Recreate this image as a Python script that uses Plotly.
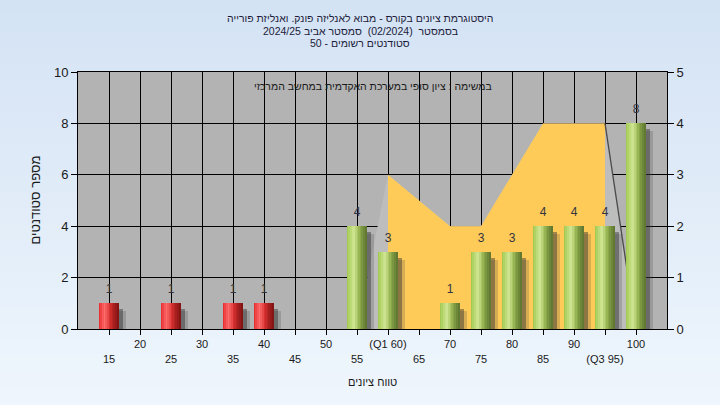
import plotly.graph_objects as go

# ---------------- data ----------------
grades = [15, 20, 25, 30, 35, 40, 45, 50, 55, 60, 65, 70, 75, 80, 85, 90, 95, 100]
counts = [1, 0, 1, 0, 1, 1, 0, 0, 4, 3, 0, 1, 3, 3, 4, 4, 4, 8]
tick_labels = ["15", "20", "25", "30", "35", "40", "45", "50", "55", "(Q1 60)",
               "65", "70", "75", "80", "85", "90", "(Q3 95)", "100"]
fail_threshold = 55  # bars below this are red

dist_x = [55, 60, 65, 70, 75, 80, 85, 90, 95, 100]
dist_y = [0, 3, 2.5, 2, 2, 3, 4, 4, 4, 0]
iqr_x = [60, 65, 70, 75, 80, 85, 90, 95]
iqr_y = [3, 2.5, 2, 2, 3, 4, 4, 4]
edge_x = [95, 100]
edge_y = [4, 0]

title_lines = [
    "היסטוגרמת ציונים בקורס - מבוא לאנליזה פונק. ואנליזת פורייה",
    "בסמסטר  (02/2024)  סמסטר אביב 2024/25",
    "סטודנטים רשומים - 50",
]
subtitle = "במשימה : ציון סופי במערכת האקדמית במחשב המרכזי"
x_title = "טווח ציונים"
y_title = "מספר סטודנטים"

FONT = "Liberation Sans, DejaVu Sans, Arial, sans-serif"
RLE, PDF = "\u202B", "\u202C"


def hx(c):
    c = c.lstrip("#")
    return [int(c[i:i + 2], 16) for i in (0, 2, 4)]


def grad(stops, t):
    for (t0, c0), (t1, c1) in zip(stops, stops[1:]):
        if t0 <= t <= t1:
            f = (t - t0) / (t1 - t0) if t1 > t0 else 0
            a, b = hx(c0), hx(c1)
            return "rgb(%d,%d,%d)" % tuple(round(a[i] + (b[i] - a[i]) * f) for i in range(3))
    return stops[-1][1]


red_stops = [(0, "#e4262a"), (0.3, "#ff6e6e"), (0.55, "#d83030"), (1, "#7c1212")]
green_stops = [(0, "#9cc64a"), (0.35, "#d2e895"), (0.62, "#98b652"), (1, "#5a722e")]

fig = go.Figure()

# background gradient (page)
n_bands = 27
top_c, bot_c = "#d3e2f4", "#eff6fd"
for i in range(n_bands):
    t = i / (n_bands - 1)
    fig.add_shape(type="rect", xref="paper", yref="paper",
                  x0=-0.2, x1=1.2, y0=1.35 - (i + 1) * (1.7 / n_bands) - 0.01,
                  y1=1.35 - i * (1.7 / n_bands),
                  fillcolor=grad([(0, top_c), (1, bot_c)], t), line_width=0, layer="below")
fig.add_shape(type="rect", xref="x domain", yref="y domain", x0=0, x1=1, y0=0, y1=1,
              fillcolor="#b3b3b3", line_width=0, layer="below")

# area traces on primary y (right axis 0-5)
fig.add_trace(go.Scatter(x=dist_x, y=dist_y, mode="lines", fill="tozeroy",
                         fillcolor="#bdbdbd", line=dict(width=0), yaxis="y",
                         hoverinfo="skip", showlegend=False))
fig.add_trace(go.Scatter(x=iqr_x, y=iqr_y, mode="lines", fill="tozeroy",
                         fillcolor="#ffcb58", line=dict(width=0, color="#ffcb58"),
                         yaxis="y", hoverinfo="skip", showlegend=False))
fig.add_trace(go.Scatter(x=edge_x, y=edge_y, mode="lines",
                         line=dict(width=1.3, color="#4a4a4a"), yaxis="y",
                         hoverinfo="skip", showlegend=False))

# bars on y2 (left axis 0-10)
W = 3.2
fig.add_trace(go.Bar(x=grades, y=counts, base=-0.3, width=W + 0.6, offset=-W / 2 + 0.5,
                     marker=dict(color="rgba(70,70,70,0.22)", line_width=0), yaxis="y2",
                     hoverinfo="skip", showlegend=False))
fig.add_trace(go.Bar(x=grades, y=counts, base=-0.22, width=W, offset=-W / 2 + 0.6,
                     marker=dict(color="rgba(50,50,50,0.45)", line_width=0), yaxis="y2",
                     hoverinfo="skip", showlegend=False))
N = 12
for k in range(N):
    t = (k + 0.5) / N
    cols = [grad(red_stops if g < fail_threshold else green_stops, t) for g in grades]
    fig.add_trace(go.Bar(x=grades, y=counts, width=W / N + 0.02, offset=-W / 2 + k * W / N,
                         marker=dict(color=cols, line_width=0), yaxis="y2",
                         hoverinfo="skip", showlegend=False))

labels = [str(c) if c > 0 else "" for c in counts]
fig.add_trace(go.Scatter(x=grades, y=counts, mode="markers+text", text=labels,
                         marker=dict(size=10, color="rgba(0,0,0,0)"),
                         textposition="top center", yaxis="y2", cliponaxis=False,
                         textfont=dict(family=FONT, size=12, color="#333340"),
                         hoverinfo="skip", showlegend=False))

ticktext = [lab if i % 2 == 1 else "<br>" + lab for i, lab in enumerate(tick_labels)]

fig.update_layout(
    width=720, height=405, autosize=False,
    margin=dict(l=78, r=53, t=72, b=76),
    paper_bgcolor="#e2ecf8", plot_bgcolor="rgba(0,0,0,0)",
    barmode="overlay", bargap=0,
    font=dict(family=FONT, size=11, color="#1a1a1a"),
    xaxis=dict(range=[10, 105], tickmode="array", tickvals=grades, ticktext=ticktext,
               showgrid=True, gridcolor="#000000", gridwidth=1,
               ticks="outside", ticklen=5, tickcolor="#000000",
               showline=True, linecolor="#000000", linewidth=1, mirror=True,
               zeroline=False, tickfont=dict(size=11, color="#1a1a1a")),
    yaxis=dict(range=[0, 5], side="right", tickmode="linear", dtick=1,
               showgrid=True, gridcolor="#000000", gridwidth=1,
               ticks="outside", ticklen=6, tickcolor="#000000",
               showline=True, linecolor="#000000", linewidth=1, zeroline=False,
               tickfont=dict(size=13, color="#1a1a1a")),
    yaxis2=dict(range=[0, 10], side="left", overlaying="y", tickmode="linear", dtick=2,
                showgrid=False, ticks="outside", ticklen=6, tickcolor="#000000",
                showline=True, linecolor="#000000", linewidth=1, zeroline=False,
                tickfont=dict(size=13, color="#1a1a1a")),
)

# titles as annotations
for line, py in zip(title_lines, [18, 31, 43]):
    fig.add_annotation(text=RLE + line + PDF, xref="paper", yref="paper",
                       x=(360 - 78) / 589, y=(329 - py) / 257, showarrow=False,
                       xanchor="center", yanchor="middle",
                       font=dict(family=FONT, size=10.5, color="#1c1c3a"))
fig.add_annotation(text=RLE + subtitle + PDF, xref="paper", yref="paper",
                   x=0.5, y=(329 - 86) / 257, showarrow=False,
                   xanchor="center", yanchor="middle",
                   font=dict(family=FONT, size=10.5, color="#1a1a1a"))
fig.add_annotation(text=RLE + x_title + PDF, xref="paper", yref="paper",
                   x=0.5, y=(329 - 382) / 257, showarrow=False,
                   xanchor="center", yanchor="middle",
                   font=dict(family=FONT, size=11, color="#1a1a1a"))
fig.add_annotation(text=RLE + y_title + PDF, xref="paper", yref="paper",
                   x=(35 - 78) / 589, y=0.5, showarrow=False, textangle=-90,
                   xanchor="center", yanchor="middle",
                   font=dict(family=FONT, size=13, color="#1a1a1a"))

fig.write_html("out.html", config={"displayModeBar": False},
               post_script="document.body.style.margin='0';")
